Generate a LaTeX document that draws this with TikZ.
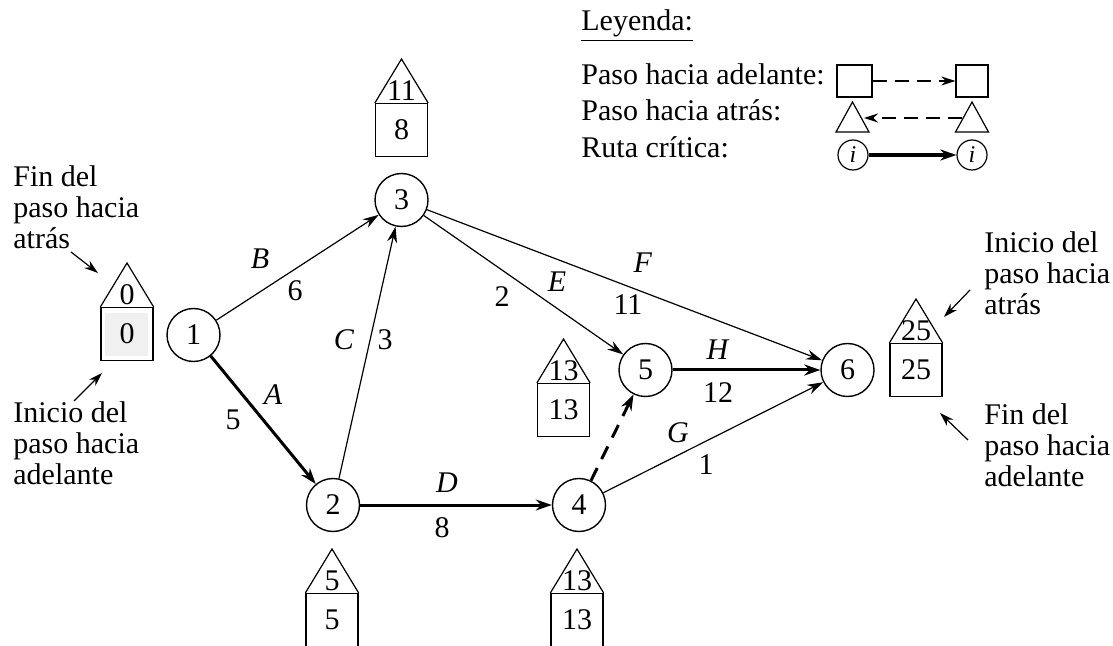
\documentclass[tikz,border=0pt]{standalone}
\usepackage{fontspec}
\setmainfont{Liberation Serif}
\usetikzlibrary{arrows.meta}

\tikzset{
  evento/.style={draw, circle, minimum size=26.5pt, inner sep=0pt, line width=0.7pt},
  caja/.style={draw, minimum width=26pt, minimum height=26.5pt, inner sep=0pt, line width=0.6pt},
  tarea/.style={line width=0.6pt, -{Stealth[length=8pt,width=5pt]}},
  critica/.style={line width=1.5pt, -{Stealth[length=8pt,width=5.5pt]}},
  ficticia/.style={critica, dash pattern=on 7pt off 5pt},
  nota/.style={align=left, anchor=north west, inner sep=0pt},
  flecha/.style={line width=0.6pt, -{Stealth[length=7pt,width=4.5pt]}},
  paso/.style={line width=0.6pt, dash pattern=on 7pt off 4pt, -{Stealth[length=7pt,width=4.5pt]}},
  muestra/.style={draw, circle, minimum size=15pt, inner sep=0pt, line width=0.6pt, font=\fontsize{12}{12}\selectfont},
}

\begin{document}
\begin{tikzpicture}[x=0.5pt, y=-0.5pt, font=\fontsize{15}{15.5}\selectfont]
\useasboundingbox (0,0) rectangle (1113,646);

% Eventos
\node[evento] (n1) at (193.5,335) {1};
\node[evento] (n2) at (333,505) {2};
\node[evento] (n3) at (401.5,200) {3};
\node[evento] (n4) at (579,505) {4};
\node[evento] (n5) at (645.5,370) {5};
\node[evento] (n6) at (847.5,370) {6};

% Actividades
\draw[critica] (n1) -- (n2);
\draw[tarea] (n1) -- (n3);
\draw[tarea] (n2) -- (n3);
\draw[critica] (n2) -- (n4);
\draw[tarea] (n3) -- (n5);
\draw[tarea] (n3) -- (n6);
\draw[ficticia] (n4) -- (n5);
\draw[tarea] (n4) -- (n6);
\draw[critica] (n5) -- (n6);

% Etiquetas de actividades y duraciones
\foreach \x/\y/\t in {260/259/B, 273/395/A, 344/340/C, 557/282/E,
                      643/263/F, 718/350/H, 447/483/D, 678/433/G}
  \node (act\t) at (\x,\y) {\textit{\t}};
\foreach \x/\y/\d [count=\i] in {295/291/6, 233/420/5, 385/340/3, 502/297/2,
                      628/305/11, 718/393/12, 442/528/8, 706/465/1}
  \node (dur\i) at (\x,\y) {\d};

% Cajas: tiempos mas tardios (triangulo) y mas tempranos (cuadro)
\foreach \x/\y/\a/\b/\k in {127/334/0/0/1, 401.5/130/11/8/3, 563.5/410/13/13/5,
                            332/620/5/5/2, 577/620/13/13/4, 916/370/25/25/6} {
  \node[caja] (b\k) at (\x,\y) {\b};
  \draw[line width=0.6pt] (b\k.north west) -- (\x,\y-71) -- (b\k.north east);
  \node[inner sep=0pt] (t\k) at (\x,\y-39) {\a};
}
\fill[gray!12] (105,313) rectangle (148,356);
\node at (b1) {0};

% Notas
\node[nota] (finI) at (13,165) {Fin del\\paso hacia\\atrás};
\node[nota] (iniI) at (13,401) {Inicio del\\paso hacia\\adelante};
\node[nota] (iniD) at (984,231) {Inicio del\\paso hacia\\atrás};
\node[nota] (finD) at (984,403) {Fin del\\paso hacia\\adelante};
\coordinate (p1) at (98,273);
\coordinate (p2) at (102,373);
\coordinate (p3) at (944,317);
\coordinate (p4) at (940,413);
\draw[flecha] (71,252) -- (p1);
\draw[flecha] (74,401) -- (p2);
\draw[flecha] (970,290) -- (p3);
\draw[flecha] (968,440) -- (p4);

% Leyenda
\node[anchor=base west, inner sep=0pt] (ley) at (581,31) {\underline{Leyenda:}};
\node[anchor=base west, inner sep=0pt] (ley1) at (581,85) {Paso hacia adelante:};
\node[anchor=base west, inner sep=0pt] (ley2) at (581,121) {Paso hacia atrás:};
\node[anchor=base west, inner sep=0pt] (ley3) at (581,158) {Ruta crítica:};
\node[draw, line width=0.6pt, minimum width=17.5pt, minimum height=16pt] (q1) at (854.5,81) {};
\node[draw, line width=0.6pt, minimum width=16pt, minimum height=16pt] (q2) at (972,81) {};
\draw[paso] (q1) -- (q2);
\coordinate (r1) at (852.5,102);
\coordinate (r2) at (972,102);
\draw[line width=0.6pt] (836,132) -- (r1) -- (869,132) -- cycle;
\draw[line width=0.6pt] (955.5,132) -- (r2) -- (988.5,132) -- cycle;
\coordinate (s1) at (864,118);
\coordinate (s2) at (962,118);
\draw[paso] (s2) -- (s1);
\node[muestra] (c1) at (853,155) {\textit{i}};
\node[muestra] (c2) at (972,155) {\textit{i}};
\draw[line width=1.7pt, -{Stealth[length=8pt,width=5.5pt]}] (c1) -- (c2);
\end{tikzpicture}
\end{document}
